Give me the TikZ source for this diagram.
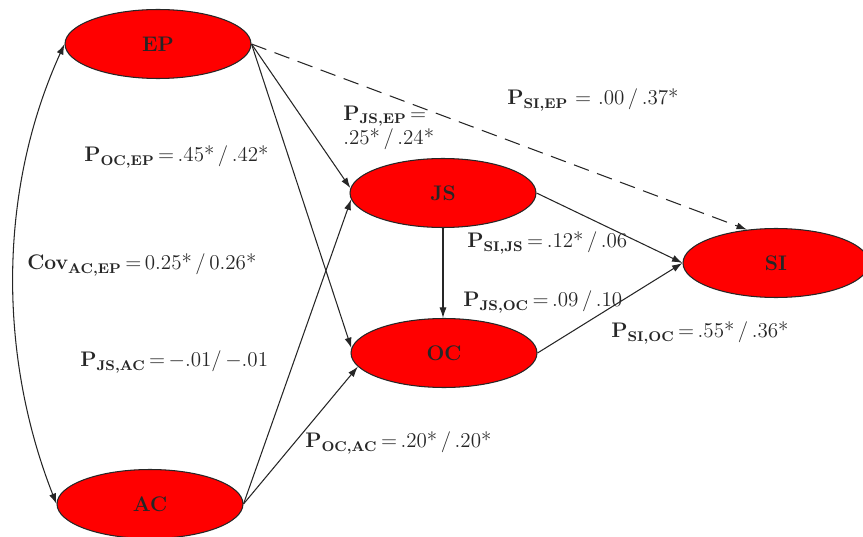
\documentclass[tikz,border=0pt]{standalone}
\usetikzlibrary{shapes.geometric, arrows.meta}

\newcommand{\coefP}[2]{\textbf{#1}\textsubscript{\bfseries #2}}

\begin{document}
\begin{tikzpicture}[>={Latex[length=6pt, width=4pt]}, x=0.02cm, y=-0.02cm]
    \tikzset{
        latent/.style={ellipse, draw=black!85, line width=0.6pt, fill=red, inner sep=0pt,
            minimum width=3.72cm, minimum height=1.38cm, font=\large\bfseries, text=black!85},
        path/.style={->, line width=0.6pt, black!85},
        coef/.style={anchor=west, inner sep=0pt, font=\large, text=black!85}
    }
    \useasboundingbox (0,0) rectangle (863,537);

    % Variaveis latentes
    \node [latent] (EP) at (158,44) {EP};
    \node [latent] (JS) at (443,193) {JS};
    \node [latent] (OC) at (444,353) {OC};
    \node [latent] (SI) at (776,263) {SI};
    \node [latent] (AC) at (150,504) {AC};

    % Covariancia AC-EP
    \draw [<->, line width=0.6pt, black!85] (EP.west) .. controls (-2,190) and (-2,355) .. (AC.west);

    % Caminhos a partir de EP
    \draw [path] (EP.east) -- (JS.177);
    \draw [path] (EP.east) -- (OC.177);
    \draw [path, dashed, dash pattern=on 9pt off 5pt] (EP.east) -- (SI.131);

    % Caminhos a partir de AC
    \draw [path] (AC.east) -- (JS.184);
    \draw [path] (AC.east) -- (OC.189);

    % Caminhos para SI
    \draw [path] (JS.south) -- (JS.south |- OC.north);
    \draw [path] (JS.east) -- (SI.west);
    \draw [path] (OC.east) -- (SI.west);

    % Coeficientes
    \node [coef] (cSIEP) at (507,100) {\coefP{P}{SI,EP} = .00\,/\,.37*};
    \node [coef, align=left] (cJSEP) at (343,128) {\coefP{P}{JS,EP}\,=\\.25*\,/\,.24*};
    \node [coef] (cOCEP) at (84,157) {\coefP{P}{OC,EP}\,=\,.45*\,/\,.42*};
    \node [coef] (cCov) at (27,265) {\coefP{Cov}{AC,EP}\,=\,0.25*\,/\,0.26*};
    \node [coef] (cSIJS) at (467,243) {\coefP{P}{SI,JS}\,=\,.12*\,/\,.06};
    \node [coef] (cJSOC) at (463,302) {\coefP{P}{JS,OC}\,=\,.09\,/\,.10};
    \node [coef] (cSIOC) at (611,333) {\coefP{P}{SI,OC}\,=\,.55*\,/\,.36*};
    \node [coef] (cJSAC) at (80,362) {\coefP{P}{JS,AC}\,=\,$-$.01/\,$-$.01};
    \node [coef] (cOCAC) at (305,443) {\coefP{P}{OC,AC}\,=\,.20*\,/\,.20*};
\end{tikzpicture}
\end{document}
